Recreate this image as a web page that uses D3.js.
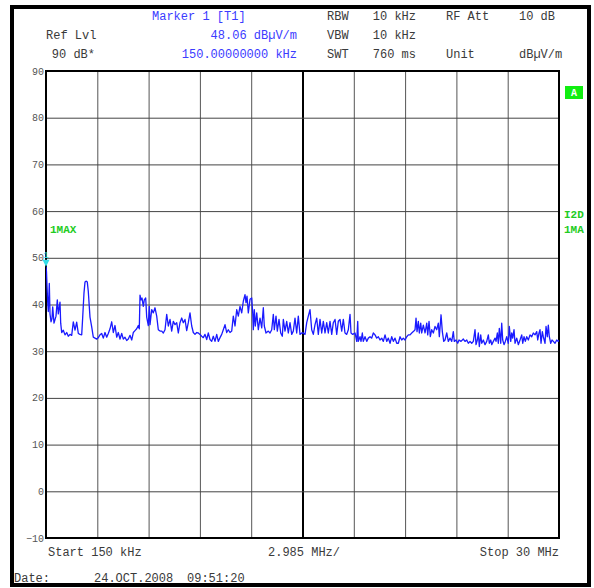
<!DOCTYPE html>
<html>
<head>
<meta charset="utf-8">
<script src="https://cdn.jsdelivr.net/npm/d3@7"></script>
<style>
  body { margin: 0; background: #fff; }
  text { font-family: "Liberation Mono", "DejaVu Sans Mono", monospace; }
</style>
</head>
<body>
<svg id="chart" width="594" height="588"></svg>
<script>
// Sweep 150 kHz .. 30 MHz, max-hold trace, level in dBµV/m
const freqMHz = [
  0.150,0.179,0.208,0.249,0.284,0.342,0.383,0.441,0.499,0.540,0.616,0.732,0.808,0.866,0.965,1.005,1.064,1.157,1.256,1.355,
  1.448,1.547,1.645,1.739,1.838,1.936,2.030,2.128,2.227,2.286,2.361,2.419,2.495,2.553,2.611,2.710,2.809,2.902,3.001,3.100,
  3.193,3.292,3.391,3.484,3.583,3.682,3.775,3.874,3.973,4.066,4.165,4.264,4.357,4.456,4.555,4.648,4.747,4.846,4.939,5.038,
  5.137,5.230,5.329,5.428,5.521,5.579,5.620,5.678,5.736,5.812,5.870,5.951,6.010,6.103,6.161,
  6.202,6.301,6.394,6.493,6.592,6.685,6.784,6.883,6.976,7.075,7.174,7.267,7.366,7.464,7.558,7.657,7.755,7.849,7.947,8.046,
  8.139,8.238,8.337,8.430,8.529,8.628,8.721,8.820,8.919,9.012,9.111,9.210,9.303,9.402,9.501,9.594,9.693,9.792,9.885,9.984,
  10.083,10.176,10.275,10.374,10.467,10.566,10.665,10.758,10.857,10.956,11.049,11.148,11.247,11.340,11.439,11.538,11.631,11.730,11.788,11.846,
  11.922,12.021,
  12.120,12.178,12.213,12.271,12.329,12.411,12.504,12.603,12.702,12.795,12.853,12.952,13.086,13.185,13.284,13.377,13.435,13.534,13.610,13.708,
  13.807,13.900,13.959,14.057,14.156,14.250,14.348,14.447,14.540,14.639,14.738,14.831,14.930,15.029,15.122,15.221,15.320,15.413,15.512,15.611,
  15.704,15.803,15.902,15.995,16.094,16.193,16.286,16.385,16.484,16.577,16.676,16.775,16.868,16.967,17.066,17.159,17.258,17.357,17.450,17.549,
  17.648,17.741,17.840,17.898,17.997,18.131,
  18.230,18.288,18.323,18.422,18.480,18.556,18.614,18.713,18.812,18.905,19.004,19.103,19.196,19.295,19.394,19.487,19.586,19.685,19.778,19.877,
  19.976,20.069,20.168,20.267,20.360,20.459,20.558,20.651,20.750,20.849,20.942,21.041,21.140,21.233,21.332,21.431,21.524,21.623,21.681,21.739,
  21.815,21.873,21.954,22.013,22.106,22.205,22.304,22.362,22.437,22.513,22.594,22.688,22.787,22.885,22.979,23.037,23.136,23.211,23.293,23.368,
  23.467,23.560,23.659,23.758,23.851,23.909,24.008,24.107,24.182,24.299,
  24.433,24.532,24.631,24.724,24.823,24.922,25.015,25.114,25.172,25.248,25.306,25.364,25.445,25.504,25.597,25.696,25.795,25.888,25.946,26.027,
  26.086,26.179,26.278,26.336,26.411,26.469,26.528,26.609,26.667,26.725,26.801,26.877,26.958,27.051,27.109,27.191,27.249,27.307,27.383,27.441,
  27.540,27.633,27.732,27.831,27.889,27.965,28.040,28.122,28.215,28.314,28.413,28.506,28.605,28.704,28.762,28.837,28.896,28.954,29.030,29.088,
  29.187,29.245,29.320,29.378,29.437,29.518,29.594,29.670,29.769,29.868,29.961,30.000
];
const levelDb = [
  48.06,47,44,40.5,38.5,44.5,38,36.3,37,39.5,36,37.5,41,38,40.5,36,34,34.5,33.5,34,
  33.2,33.6,33.4,36.3,34.5,36.2,33.8,33.6,33.5,37.3,42.5,44.8,45,44.8,42.8,37.3,35.2,33,32.8,32.6,
  32.9,33.5,33.8,32.8,34,33,33.8,34.8,36.3,34,35.5,33,34,32.6,33.8,32.6,33,32.3,32.6,33.4,
  32.4,34,34.4,34.8,35.5,34.8,42,41,41.4,39.6,41,41.4,37.3,35.5,39.6,
  35.7,38.9,38.2,39.3,37.5,34.6,34.3,34.3,33.9,34.6,37.9,35.4,36.8,34.3,36.4,35.7,36.1,33.9,36.1,37.1,
  36.1,36.8,34.4,36.1,38.2,35.4,34,33.6,34,33.9,33.6,33.2,32.9,33.6,32.5,33.9,32.5,32.1,33.2,32.1,
  33.6,32.1,32.9,33.6,34.6,35.7,34,34.6,34,34.3,37.5,35.4,38.9,37.5,39.6,38.2,40.7,42.1,40.4,41.8,
  38.2,41.1,
  41.4,38.2,34.6,38.9,35.4,38.2,34.6,37.1,35,39.3,35.4,33.9,34.3,33.9,34.6,37.9,34.6,37.5,34.3,36.8,
  33.9,33.2,36.8,34.3,36.4,33.9,36.1,33.6,34.3,37.1,33.9,37.5,33.6,33.9,33.9,33.6,36.1,37.5,38.9,34.6,
  33.6,35.7,37.1,33.6,36.8,33.9,36.4,33.9,36.1,33.9,36.4,33.6,36.1,36.8,33.6,36.4,36.8,34.3,36.8,33.9,
  33.6,34.6,37.9,33.9,33.6,33.9,
  32.1,36.4,32.1,33.1,32.1,33.9,32.1,33.1,32.1,32.8,33.1,32.8,33.9,33.5,32.8,33.1,32.4,32.8,32.1,33.5,
  32.1,32.8,31.7,33.1,32.1,32.8,31.7,31.7,33.1,32.4,32.8,32.4,33.1,33.5,33.5,33.9,34.2,34.6,37.1,34.2,
  36.4,33.9,36,33.9,35.6,33.9,36,33.5,36.4,33.1,34.6,33.9,35.3,34.6,36,33.1,37.8,34.2,32.1,32.4,
  33.9,32.1,32.8,32.1,34.2,32.1,32.4,31.7,32.4,32.1,
  32.6,32.1,32.4,31.7,32.1,31.7,32.1,34.6,31.4,32.4,33.9,31,33.5,31.7,32.4,31.4,32.1,33.5,31.7,32.4,
  31.4,32.1,32.8,32.1,33.9,31.7,34.9,31.7,36,32.4,31.4,32.1,33.1,31.7,35.3,32.1,33.9,32.8,34.6,31.7,
  32.8,31.4,32.4,33.5,31.7,33.1,32.1,33.1,32.4,33.5,33.1,33.9,33.5,34.2,32.4,33.9,34.6,31.7,34.2,33.1,
  31.7,35.3,33.1,35.6,33.1,31.7,32.4,32.1,31.7,32.4,32.1,32.4
];

// Ten horizontal divisions of 2.985 MHz, ten vertical divisions of 10 dB
const xDivisions = [0.15, 3.135, 6.12, 9.105, 12.09, 15.075, 18.06, 21.045, 24.03, 27.015, 30];
const yTicks = [-10, 0, 10, 20, 30, 40, 50, 60, 70, 80, 90];

// Marker 1 on trace 1
const markerFreq = 0.15;
const markerLevel = 48.06;

// Instrument settings panel
const settingsCol1 = ["RBW", "VBW", "SWT"];
const settingsCol2 = ["10 kHz", "10 kHz", "760 ms"];
const settingsCol3 = ["RF Att", "", "Unit"];
const settingsCol4 = ["10 dB", "", "dBµV/m"];
const refLines = ["Ref Lvl", "90 dB*"];
const markerLines = ["Marker 1 [T1]", markerLevel.toFixed(2) + " dBµV/m", "150.00000000 kHz"];
const footer = { start: "Start 150 kHz", span: "2.985 MHz/", stop: "Stop 30 MHz" };
const dateLine = ["Date:", "24.OCT.2008", "09:51:20"];

const svg = d3.select("#chart");
const box = { left: 46, right: 559, top: 71, bottom: 538 };
const x = d3.scaleLinear().domain([0.15, 30]).range([box.left, box.right]);
const y = d3.scaleLinear().domain([-10, 90]).range([box.bottom, box.top]);

const ink = "#3a3a3a";
const blue = "#3b3bff";
const green = "#22cc22";
const cyan = "#33dde8";

// outer frame of the screen
svg.append("rect")
  .attr("x", 12).attr("y", 7).attr("width", 577).attr("height", 578)
  .attr("fill", "#fff").attr("stroke", "#000").attr("stroke-width", 4);

// header
const rowY = [20, 39, 58];
markerLines.forEach((t, i) => {
  svg.append("text").attr("x", i === 0 ? 152 : 297).attr("y", rowY[i])
    .attr("text-anchor", i === 0 ? "start" : "end")
    .attr("font-size", 12).attr("fill", blue).text(t);
});
refLines.forEach((t, i) => {
  svg.append("text").attr("x", i === 0 ? 46 : 95).attr("y", rowY[i + 1])
    .attr("text-anchor", i === 0 ? "start" : "end")
    .attr("font-size", 12).attr("fill", ink).text(t);
});
settingsCol1.forEach((t, i) => {
  svg.append("text").attr("x", 327).attr("y", rowY[i]).attr("font-size", 12).attr("fill", ink).text(t);
});
settingsCol2.forEach((t, i) => {
  svg.append("text").attr("x", 416).attr("y", rowY[i]).attr("text-anchor", "end")
    .attr("font-size", 12).attr("fill", ink).text(t);
});
settingsCol3.forEach((t, i) => {
  svg.append("text").attr("x", 446).attr("y", rowY[i]).attr("font-size", 12).attr("fill", ink).text(t);
});
settingsCol4.forEach((t, i) => {
  svg.append("text").attr("x", 519).attr("y", rowY[i]).attr("font-size", 12).attr("fill", ink).text(t);
});

// grid: vertical divisions
const gx = svg.append("g")
  .attr("transform", `translate(0,${box.bottom})`)
  .call(d3.axisBottom(x).tickValues(xDivisions).tickSize(-(box.bottom - box.top)).tickFormat(""));
gx.select(".domain").remove();
gx.selectAll(".tick line").attr("stroke", "#555").attr("stroke-width", 1);
gx.selectAll(".tick").filter(d => d === 15.075).select("line")
  .attr("stroke", "#000").attr("stroke-width", 2);

// grid: horizontal divisions with level labels
const gy = svg.append("g")
  .attr("transform", `translate(${box.left},0)`)
  .call(d3.axisLeft(y).tickValues(yTicks).tickSize(-(box.right - box.left)).tickPadding(2));
gy.select(".domain").remove();
gy.selectAll(".tick line").attr("stroke", "#444").attr("stroke-width", 1);
gy.selectAll(".tick text")
  .attr("font-family", "'Liberation Sans', Arial, sans-serif")
  .attr("font-size", 10).attr("fill", "#555").attr("dy", "0.3em");

// plot frame
svg.append("rect")
  .attr("x", box.left).attr("y", box.top)
  .attr("width", box.right - box.left).attr("height", box.bottom - box.top)
  .attr("fill", "none").attr("stroke", "#000").attr("stroke-width", 2);

// trace
svg.append("clipPath").attr("id", "plotClip")
  .append("rect").attr("x", box.left).attr("y", box.top)
  .attr("width", box.right - box.left).attr("height", box.bottom - box.top);

const trace = d3.zip(freqMHz, levelDb);
svg.append("path")
  .datum(trace)
  .attr("clip-path", "url(#plotClip)")
  .attr("fill", "none")
  .attr("stroke", "#1a1aff")
  .attr("stroke-width", 1.3)
  .attr("stroke-linejoin", "round")
  .attr("d", d3.line().x(d => x(d[0])).y(d => y(d[1])));

// marker 1
const mx = x(markerFreq), my = y(markerLevel);
svg.append("path")
  .attr("d", `M${mx - 3.5},${my - 7}L${mx + 3.5},${my - 7}L${mx},${my}Z`)
  .attr("fill", cyan);
svg.append("text").attr("x", mx).attr("y", my - 9).attr("text-anchor", "middle")
  .attr("font-size", 9).attr("fill", cyan).text("1");

// trace / screen annotations
svg.append("text").attr("x", 50).attr("y", 233).attr("font-size", 11)
  .attr("font-weight", "bold").attr("fill", green).text("1MAX");
svg.append("text").attr("x", 564).attr("y", 218).attr("font-size", 11)
  .attr("font-weight", "bold").attr("fill", green).text("I2D");
svg.append("text").attr("x", 564).attr("y", 233).attr("font-size", 11)
  .attr("font-weight", "bold").attr("fill", green).text("1MA");
svg.append("rect").attr("x", 565).attr("y", 86).attr("width", 18).attr("height", 13)
  .attr("fill", "#11ee11");
svg.append("text").attr("x", 574).attr("y", 96).attr("text-anchor", "middle")
  .attr("font-size", 10).attr("font-weight", "bold").attr("fill", "#fff").text("A");

// footer
svg.append("text").attr("x", 48).attr("y", 556).attr("font-size", 12).attr("fill", ink).text(footer.start);
svg.append("text").attr("x", 268).attr("y", 556).attr("font-size", 12).attr("fill", ink).text(footer.span);
svg.append("text").attr("x", 559).attr("y", 556).attr("text-anchor", "end")
  .attr("font-size", 12).attr("fill", ink).text(footer.stop);
svg.append("text").attr("x", 14).attr("y", 582).attr("font-size", 12).attr("fill", ink).text(dateLine[0]);
svg.append("text").attr("x", 94).attr("y", 582).attr("font-size", 12).attr("fill", ink).text(dateLine[1]);
svg.append("text").attr("x", 187).attr("y", 582).attr("font-size", 12).attr("fill", ink).text(dateLine[2]);
</script>
</body>
</html>
